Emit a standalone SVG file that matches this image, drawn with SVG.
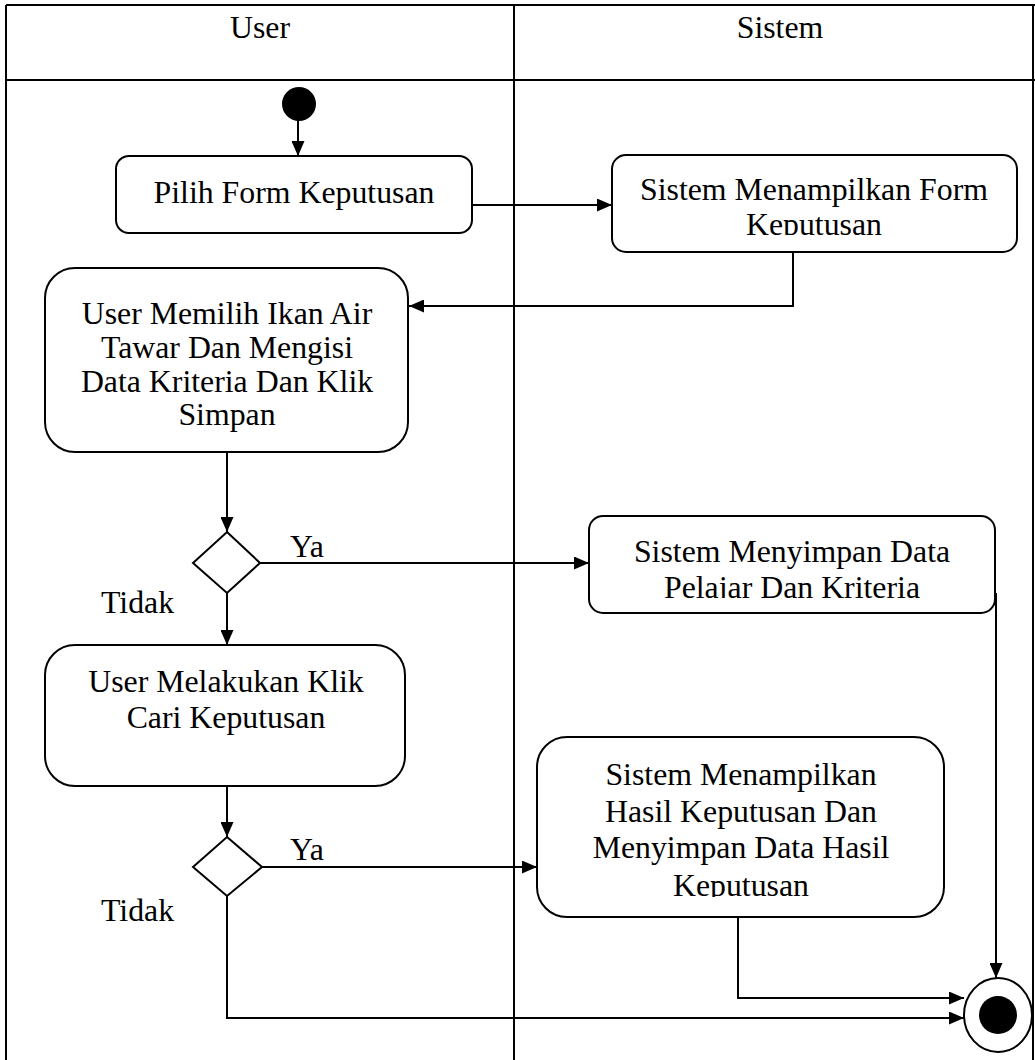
<svg xmlns="http://www.w3.org/2000/svg" width="1035" height="1060" viewBox="0 0 1035 1060">
<style>
.frame{stroke:#000;stroke-width:2;fill:none}
.box{fill:#fff;stroke:#000;stroke-width:2}
.edge{fill:none;stroke:#000;stroke-width:2}
text{font-family:"Liberation Serif","Times New Roman",serif;font-size:31.8px;fill:#000}
.c{text-anchor:middle}
</style>
<defs>
<marker id="arr" viewBox="0 0 15 13" refX="15" refY="6.5" markerWidth="15" markerHeight="13" markerUnits="userSpaceOnUse" orient="auto">
<path d="M0,0 L15,6.5 L0,13 Z" fill="#000"/>
</marker>
<clipPath id="clipA"><rect x="600" y="150" width="420" height="85"/></clipPath>
<clipPath id="clipB"><rect x="580" y="510" width="420" height="88"/></clipPath>
<clipPath id="clipC"><rect x="530" y="730" width="420" height="167"/></clipPath>
</defs>
<rect width="1035" height="1060" fill="#fff"/>
<g id="frame">
<line class="frame" x1="6" y1="5" x2="1035" y2="5"/>
<line class="frame" x1="6" y1="5" x2="6" y2="1060"/>
<line class="frame" x1="1033" y1="5" x2="1033" y2="1060"/>
<line class="frame" x1="6" y1="80" x2="1035" y2="80"/>
<line class="frame" x1="514" y1="5" x2="514" y2="1060"/>
<text class="c" x="260" y="38">User</text>
<text class="c" x="780" y="38">Sistem</text>
</g>
<g id="connectors">
<line class="edge" x1="298" y1="120" x2="298" y2="156" marker-end="url(#arr)"/>
<line class="edge" x1="472" y1="205" x2="612" y2="205" marker-end="url(#arr)"/>
<polyline class="edge" points="793,252 793,306 409,306" marker-end="url(#arr)"/>
<line class="edge" x1="227" y1="452" x2="227" y2="532" marker-end="url(#arr)"/>
<line class="edge" x1="260" y1="563" x2="589" y2="563" marker-end="url(#arr)"/>
<line class="edge" x1="227" y1="593" x2="227" y2="645" marker-end="url(#arr)"/>
<line class="edge" x1="227" y1="786" x2="227" y2="837" marker-end="url(#arr)"/>
<line class="edge" x1="262" y1="867" x2="537" y2="867" marker-end="url(#arr)"/>
<polyline class="edge" points="996,593 996,978" marker-end="url(#arr)"/>
<polyline class="edge" points="738,917 738,998 964,998" marker-end="url(#arr)"/>
<polyline class="edge" points="227,896 227,1018 964,1018" marker-end="url(#arr)"/>
<text x="290" y="557">Ya</text>
<text x="101" y="613">Tidak</text>
<text x="290" y="860">Ya</text>
<text x="101" y="921">Tidak</text>
</g>
<g id="start"><ellipse cx="299" cy="104" rx="17" ry="17" fill="#000"/></g>
<g id="pilih">
<rect class="box" x="116" y="156" width="356" height="77" rx="13"/>
<text class="c" x="294" y="203">Pilih Form Keputusan</text>
</g>
<g id="tampilForm">
<rect class="box" x="612" y="155" width="405" height="97" rx="14"/>
<g clip-path="url(#clipA)">
<text class="c" x="814" y="200">Sistem Menampilkan Form</text>
<text class="c" x="814" y="235">Keputusan</text>
</g>
</g>
<g id="memilih">
<rect class="box" x="45" y="268" width="363" height="184" rx="30"/>
<text class="c" x="227" y="324">User Memilih Ikan Air</text>
<text class="c" x="227" y="358">Tawar Dan Mengisi</text>
<text class="c" x="227" y="392">Data Kriteria Dan Klik</text>
<text class="c" x="227" y="425">Simpan</text>
</g>
<g id="decision1"><polygon class="box" points="227,532 260,563 227,593 193,563"/></g>
<g id="simpan">
<rect class="box" x="589" y="516" width="406" height="97" rx="14"/>
<g clip-path="url(#clipB)">
<text class="c" x="792" y="562">Sistem Menyimpan Data</text>
<text class="c" x="792" y="598">Pelajar Dan Kriteria</text>
</g>
</g>
<g id="cari">
<rect class="box" x="45" y="645" width="360" height="141" rx="30"/>
<text class="c" x="226" y="692">User Melakukan Klik</text>
<text class="c" x="226" y="728">Cari Keputusan</text>
</g>
<g id="decision2"><polygon class="box" points="227,837 262,867 227,896 193,867"/></g>
<g id="hasil">
<rect class="box" x="537" y="737" width="407" height="180" rx="30"/>
<g clip-path="url(#clipC)">
<text class="c" x="741" y="785">Sistem Menampilkan</text>
<text class="c" x="741" y="822">Hasil Keputusan Dan</text>
<text class="c" x="741" y="858">Menyimpan Data Hasil</text>
<text class="c" x="741" y="896">Keputusan</text>
</g>
</g>
<g id="end">
<ellipse cx="998" cy="1015" rx="34" ry="37" fill="#fff" stroke="#000" stroke-width="2"/>
<circle cx="998" cy="1015" r="19" fill="#000"/>
</g>
</svg>
